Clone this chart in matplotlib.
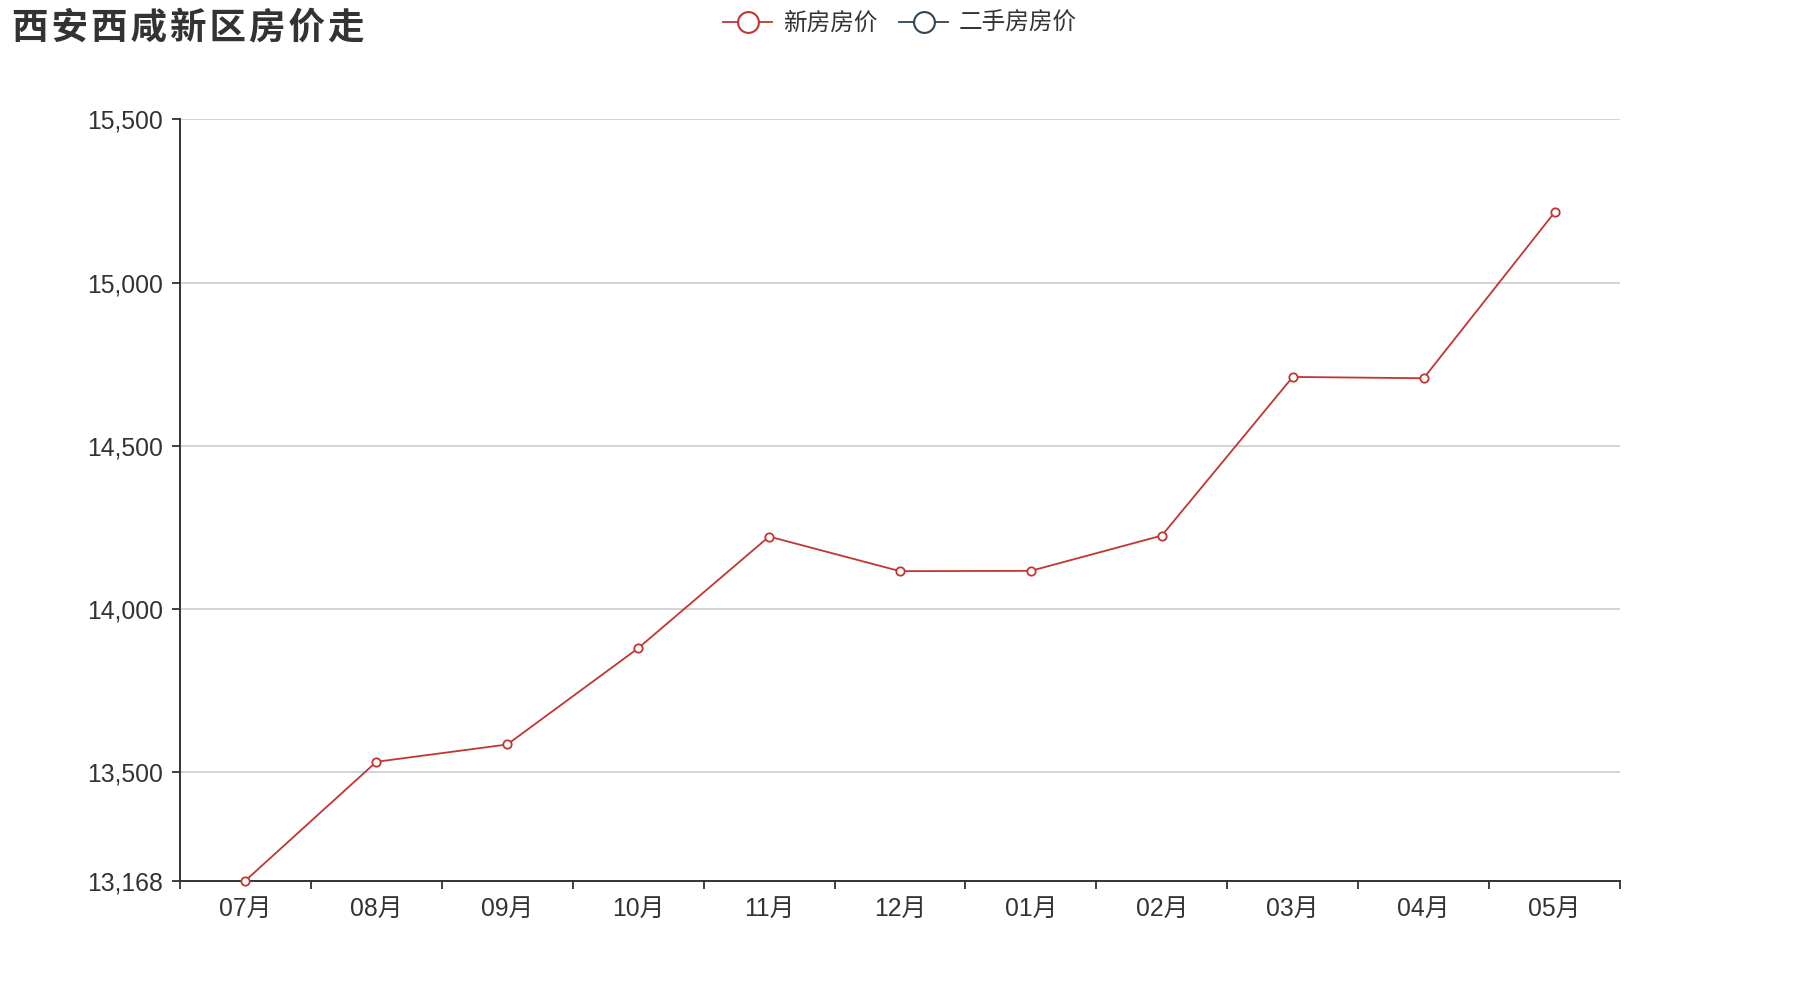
import numpy as np
import matplotlib.pyplot as plt
from matplotlib.lines import Line2D

months = ['07月', '08月', '09月', '10月', '11月', '12月', '01月', '02月', '03月', '04月', '05月']
new_price = [13168, 13532, 13585, 13880, 14222, 14116, 14117, 14225, 14711, 14707, 15215]
yticks = [13168, 13500, 14000, 14500, 15000, 15500]
title = '西安西咸新区房价走'

fonts = ['Liberation Sans', 'Noto Sans CJK SC', 'DejaVu Sans']
plt.rcParams['font.family'] = fonts
red = '#c23531'
dark = '#2f4554'
txt = '#333333'

fig = plt.figure(figsize=(18, 10), dpi=100)
ax = fig.add_axes([0.1, 0.1194, 0.8, 0.7612])

x = np.arange(len(months))
ax.plot(x, new_price, color=red, lw=1.3, marker='o', ms=6, mfc='white',
        mec=red, mew=1.3, zorder=3, clip_on=False)

ax.set_xlim(-0.5, len(months) - 0.5)
ax.set_ylim(yticks[0], yticks[-1])
ax.set_yticks(yticks)
ax.set_yticklabels(['{:,}'.format(v) for v in yticks], fontsize=17.8, color=txt)
ax.grid(axis='y', color='#cccccc', lw=1.2)
ax.set_axisbelow(True)

ax.set_xticks(np.arange(-0.5, len(months), 1.0))
ax.set_xticklabels([])
ax.set_xticks(x, minor=True)
ax.set_xticklabels(months, minor=True, fontsize=17.8, color=txt)
ax.tick_params(axis='x', which='minor', length=0, pad=12)
ax.tick_params(axis='both', which='major', length=6, width=1.3, color=txt)
ax.tick_params(axis='y', pad=6)

for s in ['top', 'right']:
    ax.spines[s].set_visible(False)
for s in ['left', 'bottom']:
    ax.spines[s].set_color(txt)
    ax.spines[s].set_linewidth(1.4)

fig.text(0.0064, 0.971, '\u200a'.join(title), fontsize=26.3, fontweight='bold',
         color=txt, ha='left', va='center')

handles = [
    Line2D([0], [0], color=red, lw=1.3, marker='o', ms=15, mfc='white', mec=red, mew=1.5),
    Line2D([0], [0], color=dark, lw=1.3, marker='o', ms=15, mfc='white', mec=dark, mew=1.5),
]
leg = fig.legend(handles, ['新房房价', '二手房房价'], loc='center', bbox_to_anchor=(0.5, 0.976),
                 ncol=2, frameon=False, fontsize=17, handlelength=2.1,
                 columnspacing=0.9, handletextpad=0.45)
for t in leg.get_texts():
    t.set_color(txt)

plt.savefig('out.png', dpi=100)
